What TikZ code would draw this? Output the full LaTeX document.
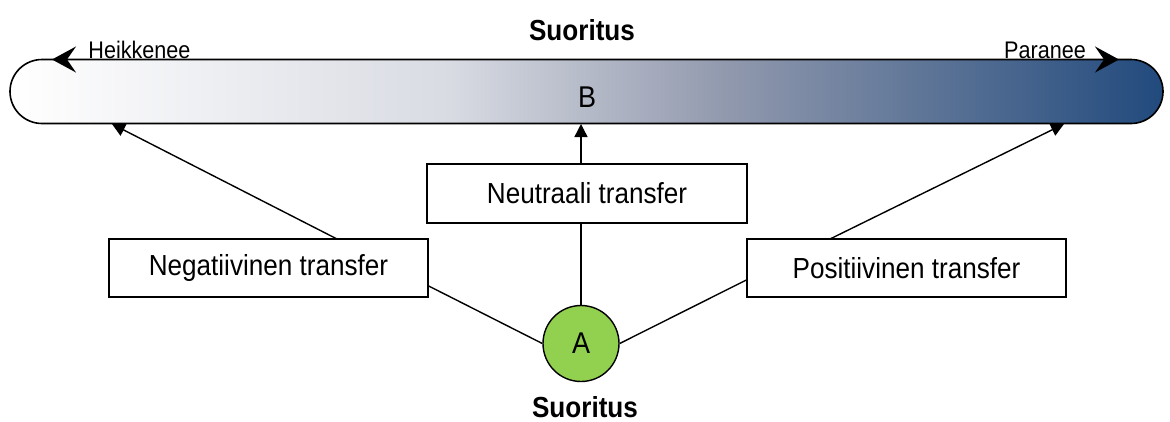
\documentclass[tikz,border=0pt]{standalone}
\usepackage{fontspec}
\setmainfont{Liberation Sans}[FakeStretch=0.9]
\usetikzlibrary{shapes.misc,arrows.meta}
\pgfdeclarehorizontalshading{barshade}{100bp}{rgb(0bp)=(1,1,1); rgb(25bp)=(1,1,1); rgb(44bp)=(0.85,0.86,0.89); rgb(56bp)=(0.57,0.60,0.68); rgb(75bp)=(0.13,0.29,0.49); rgb(100bp)=(0.13,0.29,0.49)}
\definecolor{agreen}{HTML}{92D050}
\begin{document}
\begin{tikzpicture}[x=1pt,y=-1pt,
  box/.style={draw, line width=1.4pt, fill=white, minimum width=319pt, minimum height=58pt, inner sep=0pt, font=\fontsize{29}{32}\selectfont},
  conn/.style={line width=1.4pt},
  tri/.style={line width=1.4pt, -{Triangle[length=13pt,width=13pt]}},
  topar/.style={line width=1.6pt, -{Stealth[length=24pt,width=26pt,inset=9pt]}},
  lbl/.style={anchor=base, inner sep=0pt, font=\fontsize{24}{26}\selectfont},
  ttl/.style={anchor=base, inner sep=0pt, font=\fontsize{29}{32}\selectfont\bfseries}]
\useasboundingbox (0,0) rectangle (1170,421);
% bar
\node[rounded rectangle, draw, line width=1.6pt, shade, shading=barshade, minimum width=1153pt, minimum height=64pt, inner sep=0pt] (bar) at (586.5,91.5) {};
\node[inner sep=0pt, font=\fontsize{30}{32}\selectfont] (b) at (587,97) {B};
% top arrows
\coordinate (lt) at (125,59.5);
\coordinate (lh) at (52,59.5);
\coordinate (rt) at (1050,59.5);
\coordinate (rh) at (1119,59.5);
\draw[topar] (lt) -- (lh);
\draw[topar] (rt) -- (rh);
\node[lbl] (heik) at (139.5,58) {Heikkenee};
\node[lbl] (par) at (1045,58) {Paranee};
\node[ttl] (t1) at (582,40) {Suoritus};
% boxes
\node[box] (neg) at (268.5,268) {Negatiivinen transfer};
\node[box, minimum width=320pt, minimum height=59pt] (neu) at (587,193.5) {Neutraali transfer};
\node[box] (pos) at (906.5,268) {Positiivinen transfer};
\node[circle, draw, line width=1.4pt, fill=agreen, minimum size=76pt, inner sep=0pt, font=\fontsize{30}{32}\selectfont] (a) at (581,343.5) {A};
\node[ttl] (t2) at (585,417) {Suoritus};
% connectors
\coordinate (negtop) at (337,239);
\coordinate (postop) at (830,239);
\coordinate (bl) at (112,124);
\coordinate (br) at (1064,124);
\coordinate (bm) at (581,124);
\coordinate (neutop) at (581,164);
\coordinate (neubot) at (581,223);
\draw[tri] (negtop) -- (bl);
\draw[tri] (postop) -- (br);
\draw[tri] (neutop) -- (bm);
\draw[conn] (a.north) -- (neubot);
\draw[conn] (a.west) -- (neg.east |- 0,286);
\draw[conn] (a.east) -- (pos.west |- 0,280);
\end{tikzpicture}
\end{document}
